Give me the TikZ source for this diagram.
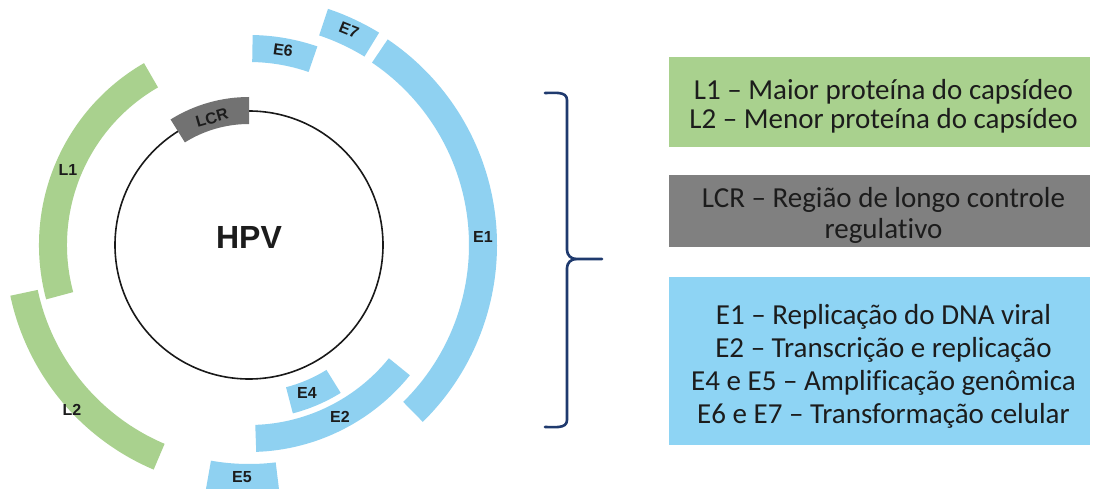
\documentclass[tikz,border=0pt]{standalone}
\usepackage{fontspec}
\setmainfont{Carlito}[Ligatures=NoCommon]
\newfontfamily\labelfont{Liberation Sans}
\definecolor{segblue}{HTML}{8FD1F1}
\definecolor{seggreen}{HTML}{A9D18E}
\definecolor{seggray}{HTML}{727272}
\definecolor{boxgray}{HTML}{808080}
\definecolor{boxblue}{HTML}{8ED4F4}
\definecolor{bracecol}{HTML}{1F3A6E}
\definecolor{inktext}{HTML}{1C1C1C}

% annular sector of the genome map: colour, start angle, end angle, inner r, outer r
\newcommand\hpvseg[5]{%
  \fill[#1, shift={(249,243)}] (#2:#5) arc[start angle=#2, end angle=#3, radius=#5]
    -- (#3:#4) arc[start angle=#3, end angle=#2, radius=#4] -- cycle;}

\tikzset{
  seglabel/.style={font=\labelfont\bfseries\fontsize{16}{16}\selectfont, text=inktext, inner sep=0pt},
  legendbox/.style={inner sep=0pt, minimum width=421pt},
  legendtext/.style={inner sep=0pt, align=center, text=inktext, font=\fontsize{29}{29}\selectfont},
}

\begin{document}
\begin{tikzpicture}[x=1pt, y=1pt]
\useasboundingbox (0,0) rectangle (1095,488);
\fill[white] (0,0) rectangle (1095,488);

% genome ring
\draw[line width=1.6pt, black!90] (249,243) circle[radius=134];

% early and late genes
\hpvseg{segblue}{56}{-45.5}{220}{248}
\hpvseg{segblue}{58.5}{71.5}{221}{249}
\hpvseg{segblue}{71}{89}{183}{210}
\hpvseg{segblue}{-88}{-39}{180}{207}
\hpvseg{segblue}{-75.4}{-58.2}{147}{174}
\hpvseg{segblue}{-100}{-83}{219}{250}
\hpvseg{seggreen}{120}{195}{182}{210}
\hpvseg{seggreen}{192}{247}{216}{244}
\hpvseg{seggray}{90}{122}{121}{148}

% gene labels
\node[font=\labelfont\bfseries\fontsize{32}{32}\selectfont, text=inktext] (hpv) at (249,251) {HPV};
\node[seglabel, rotate=16] (lcr) at (212,370) {LCR};
\node[seglabel, rotate=-8] (e6) at (283,438) {E6};
\node[seglabel, rotate=-22] (e7) at (349,458) {E7};
\node[seglabel] (e1) at (483,251) {E1};
\node[seglabel] (l1) at (68,318) {L1};
\node[seglabel] (l2) at (72,78) {L2};
\node[seglabel] (e4) at (307,95) {E4};
\node[seglabel] (e2) at (340,71) {E2};
\node[seglabel] (e5) at (242,11) {E5};

% legend boxes
\node[legendbox, fill=seggreen, minimum height=90pt] (lgreen) at (879.5,386) {};
\node[legendbox, fill=boxgray, minimum height=72pt] (lgray) at (879.5,277) {};
\node[legendbox, fill=boxblue, minimum height=168pt] (lblue) at (879.5,127) {};

\node[legendtext, font=\fontsize{29}{29}\selectfont] (tgreen) at ([xshift=4pt, yshift=-4pt]lgreen.center)
  {L1 -- Maior proteína do capsídeo\\L2 -- Menor proteína do capsídeo};
\node[legendtext, font=\fontsize{29}{31}\selectfont] (tgray) at ([xshift=4pt, yshift=-4pt]lgray.center)
  {LCR -- Região de longo controle\\regulativo};
\node[legendtext, font=\fontsize{29}{33}\selectfont] (tblue) at ([xshift=4pt, yshift=-5pt]lblue.center)
  {E1 -- Replicação do DNA viral\\E2 -- Transcrição e replicação\\E4 e E5 -- Amplificação genômica\\E6 e E7 -- Transformação celular};

% brace
\coordinate (btop) at (545,395);
\coordinate (bbot) at (545,61);
\coordinate (btip) at (602,229);
\draw[bracecol, line width=2.6pt, line cap=round]
  (btop) to[out=0, in=90] (567,388) -- (567,238) to[out=-90, in=180] (576,229) -- (btip);
\draw[bracecol, line width=2.6pt, line cap=round]
  (bbot) to[out=0, in=-90] (567,68) -- (567,220) to[out=90, in=180] (576,229);
\end{tikzpicture}
\end{document}
